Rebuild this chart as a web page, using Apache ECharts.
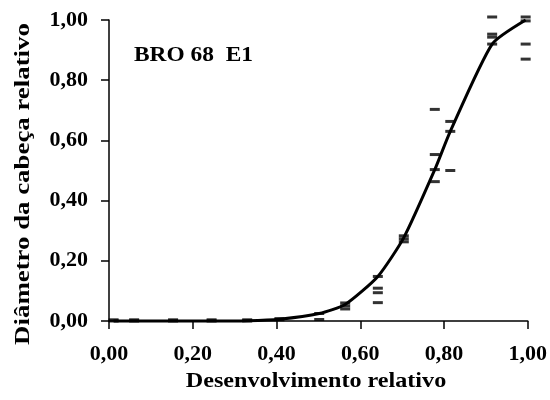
<!DOCTYPE html>
<html>
<head>
<meta charset="utf-8">
<script src="https://cdn.jsdelivr.net/npm/echarts@6/dist/echarts.min.js"></script>
<style>
  html, body { margin: 0; padding: 0; background: #fff; }
  #chart { width: 550px; height: 400px; }
</style>
</head>
<body>
<div id="chart"></div>
<script>
// Observed head diameter (relative) at each relative development stage
const obsX = [
  0.011, 0.011, 0.06, 0.06, 0.153, 0.153, 0.245, 0.245, 0.33, 0.33, 0.407, 0.407,
  0.502, 0.502,
  0.564, 0.564, 0.564,
  0.642, 0.642, 0.642, 0.642,
  0.704, 0.704, 0.704,
  0.778, 0.778, 0.778, 0.778,
  0.815, 0.815, 0.815,
  0.915, 0.915, 0.915, 0.915,
  0.995, 0.995, 0.995, 0.995
];
const obsY = [
  0.0, 0.004, 0.0, 0.004, 0.0, 0.004, 0.0, 0.004, 0.0, 0.004, 0.004, 0.008,
  0.025, 0.005,
  0.04, 0.05, 0.06,
  0.148, 0.109, 0.094, 0.061,
  0.283, 0.273, 0.263,
  0.703, 0.553, 0.503, 0.463,
  0.663, 0.63, 0.50,
  1.01, 0.953, 0.943, 0.92,
  1.01, 0.997, 0.92, 0.87
];

// Fitted growth curve
const fitX = [0.011, 0.06, 0.153, 0.245, 0.33, 0.407, 0.502, 0.564, 0.642, 0.704, 0.778, 0.815, 0.915, 0.995];
const fitY = [0.0, 0.0, 0.0, 0.0, 0.001, 0.006, 0.025, 0.055, 0.148, 0.277, 0.503, 0.63, 0.92, 1.0];

const tickFmt = v => v.toFixed(2).replace('.', ',');
const serif = '"Liberation Serif", "Times New Roman", serif';

const chart = echarts.init(document.getElementById('chart'), null, { renderer: 'canvas' });

const axisCommon = {
  type: 'value',
  min: 0,
  max: 1,
  interval: 0.2,
  splitLine: { show: false },
  axisLine: { show: true, onZero: false, lineStyle: { color: '#000', width: 1.5 } },
  axisTick: { show: true, inside: false, length: 8, lineStyle: { color: '#000', width: 1.5 } },
  axisLabel: {
    color: '#000', fontFamily: serif, fontWeight: 'bold', fontSize: 22,
    formatter: tickFmt
  }
};

chart.setOption({
  animation: false,
  backgroundColor: '#fff',
  grid: { left: 109, right: 21, top: 20, bottom: 79, containLabel: false },
  xAxis: Object.assign({}, axisCommon, {
    axisLabel: Object.assign({}, axisCommon.axisLabel, { margin: 22 })
  }),
  yAxis: Object.assign({}, axisCommon, {
    axisLabel: Object.assign({}, axisCommon.axisLabel, { margin: 21 })
  }),
  graphic: [
    {
      type: 'text',
      left: 134, top: 46,
      style: {
        text: 'BRO 68  E1',
        fill: '#000',
        font: 'bold 20px ' + serif
      },
      scaleX: 1.17
    },
    {
      type: 'text',
      x: 316, y: 382,
      scaleX: 1.15,
      style: {
        text: 'Desenvolvimento relativo',
        fill: '#000',
        font: 'bold 21px ' + serif,
        align: 'center',
        verticalAlign: 'middle'
      }
    },
    {
      type: 'text',
      x: 23, y: 184,
      rotation: Math.PI / 2,
      scaleX: 1.22,
      style: {
        text: 'Diâmetro da cabeça relativo',
        fill: '#000',
        font: 'bold 22px ' + serif,
        align: 'center',
        verticalAlign: 'middle'
      }
    }
  ],
  series: [
    {
      type: 'line',
      data: fitX.map((x, i) => [x, fitY[i]]),
      smooth: 0.2,
      showSymbol: false,
      clip: false,
      lineStyle: { color: '#000', width: 3 },
      z: 2
    },
    {
      type: 'scatter',
      data: obsX.map((x, i) => [x, obsY[i]]),
      symbol: 'rect',
      symbolSize: [10, 3],
      clip: false,
      itemStyle: { color: '#000' },
      z: 3
    }
  ]
});
</script>
</body>
</html>
